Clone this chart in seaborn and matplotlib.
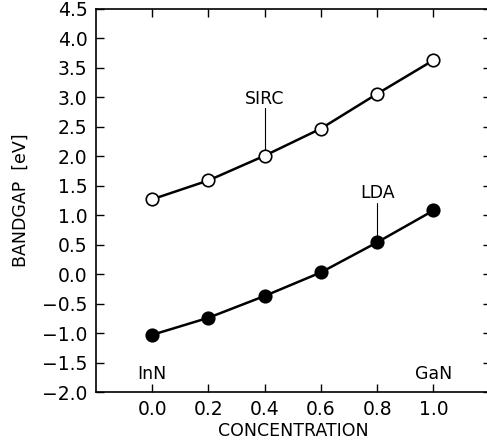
import numpy as np
import pandas as pd
import matplotlib
matplotlib.use("Agg")
import matplotlib.pyplot as plt
import seaborn as sns

# values
concentration = [0.0, 0.2, 0.4, 0.6, 0.8, 1.0]
sirc_gap = [1.27, 1.59, 2.01, 2.47, 3.06, 3.63]
lda_gap = [-1.03, -0.74, -0.37, 0.03, 0.54, 1.08]
y_ticks = [-2.0, -1.5, -1.0, -0.5, 0.0, 0.5, 1.0, 1.5, 2.0, 2.5, 3.0, 3.5, 4.0, 4.5]
x_ticks = [0.0, 0.2, 0.4, 0.6, 0.8, 1.0]

df = pd.DataFrame({
    "x": concentration * 2,
    "gap": sirc_gap + lda_gap,
    "method": ["SIRC"] * 6 + ["LDA"] * 6,
})

sns.set_style("ticks")
plt.rcParams["font.family"] = ["DejaVu Sans"]
plt.rcParams["text.color"] = "black"
plt.rcParams["axes.labelcolor"] = "black"

fig = plt.figure(figsize=(4.87, 4.47), dpi=100)
# right spine falls just outside the picture, as in the reference
ax = fig.add_axes([0.197, 0.123, 0.812, 0.857])

for method, face in [("SIRC", "white"), ("LDA", "black")]:
    sub = df[df["method"] == method]
    sns.lineplot(data=sub, x="x", y="gap", ax=ax, color="black", lw=1.8,
                 marker="o", markersize=9, markerfacecolor=face,
                 markeredgecolor="black", markeredgewidth=1.2)

ax.set_xlim(-0.2, 1.206)
ax.set_ylim(-2.0, 4.5)
ax.set_xticks(x_ticks)
ax.set_yticks(y_ticks)
ax.set_xticklabels([f"{v:.1f}" for v in x_ticks])
ax.set_yticklabels([f"{v:.1f}".replace("-", "\u2212") for v in y_ticks])
ax.tick_params(direction="in", length=6, width=1, labelsize=13.5, pad=6,
               top=True, right=True, colors="black")
for s in ax.spines.values():
    s.set_linewidth(1.2)
    s.set_color("black")

ax.set_xlabel("CONCENTRATION", fontsize=12.5, labelpad=2)
ax.set_ylabel("BANDGAP  [eV]", fontsize=12.5, labelpad=9)

# annotations with leader lines
ax.text(0.4, 2.97, "SIRC", ha="center", va="center", fontsize=12.5)
ax.plot([0.4, 0.4], [2.82, 2.1], color="black", lw=0.8)
ax.text(0.8, 1.38, "LDA", ha="center", va="center", fontsize=12.5)
ax.plot([0.8, 0.8], [1.2, 0.64], color="black", lw=0.8)
ax.text(0.0, -1.69, "InN", ha="center", va="center", fontsize=12.5)
ax.text(1.0, -1.69, "GaN", ha="center", va="center", fontsize=12.5)

fig.savefig("out.png", dpi=100)
